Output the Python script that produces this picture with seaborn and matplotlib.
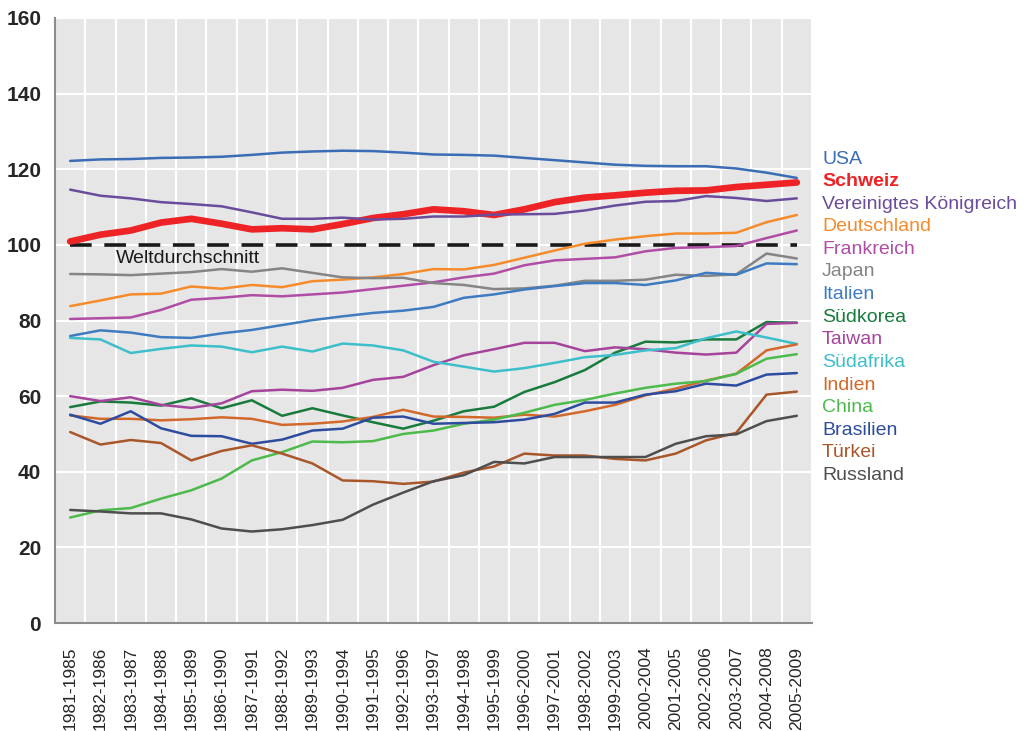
import numpy as np
import pandas as pd
import matplotlib
matplotlib.use("Agg")
import matplotlib.pyplot as plt
import seaborn as sns

perioden = [f"{y}-{y + 4}" for y in range(1981, 2006)]

usa = [122.2, 122.6, 122.7, 123.0, 123.1, 123.3, 123.8, 124.4, 124.7, 124.9, 124.8, 124.4, 123.9,
       123.8, 123.6, 123.0, 122.4, 121.8, 121.2, 120.9, 120.8, 120.8, 120.2, 119.1, 117.7]
schweiz = [100.9, 102.7, 103.8, 105.9, 106.9, 105.6, 104.1, 104.4, 104.1, 105.5, 107.1, 108.1, 109.4,
           108.9, 107.9, 109.4, 111.3, 112.5, 113.1, 113.8, 114.3, 114.4, 115.3, 115.9, 116.5]
vk = [114.6, 113.0, 112.3, 111.3, 110.8, 110.2, 108.6, 106.9, 106.9, 107.2, 106.7, 106.9, 107.5,
      107.5, 108.0, 108.1, 108.2, 109.1, 110.4, 111.4, 111.6, 112.9, 112.4, 111.6, 112.3]
deutschland = [83.8, 85.3, 86.9, 87.1, 89.0, 88.4, 89.4, 88.8, 90.4, 90.8, 91.4, 92.3, 93.6,
               93.5, 94.7, 96.6, 98.5, 100.3, 101.4, 102.3, 103.0, 103.0, 103.2, 106.0, 107.9]
frankreich = [80.4, 80.6, 80.8, 82.8, 85.5, 86.0, 86.7, 86.4, 86.9, 87.4, 88.3, 89.2, 90.1,
              91.4, 92.4, 94.6, 95.9, 96.3, 96.7, 98.3, 99.2, 99.4, 99.7, 101.8, 103.8]
japan = [92.3, 92.2, 92.0, 92.4, 92.8, 93.6, 92.9, 93.8, 92.6, 91.4, 91.2, 91.3, 89.9,
         89.4, 88.3, 88.5, 89.2, 90.5, 90.5, 90.8, 92.1, 91.8, 92.2, 97.7, 96.4]
italien = [75.9, 77.4, 76.8, 75.6, 75.4, 76.6, 77.5, 78.8, 80.1, 81.1, 82.0, 82.6, 83.6,
           86.0, 86.9, 88.2, 89.1, 89.9, 89.9, 89.4, 90.6, 92.6, 92.1, 95.1, 94.9]
suedkorea = [57.1, 58.6, 58.3, 57.5, 59.4, 56.8, 58.9, 54.8, 56.8, 54.9, 53.1, 51.4, 53.5,
             56.0, 57.2, 61.1, 63.7, 66.9, 71.5, 74.4, 74.2, 75.0, 75.0, 79.6, 79.4]
taiwan = [60.0, 58.7, 59.7, 57.7, 56.9, 58.1, 61.3, 61.7, 61.4, 62.2, 64.3, 65.1, 68.2,
          70.8, 72.4, 74.1, 74.1, 71.9, 72.9, 72.4, 71.5, 71.0, 71.5, 79.1, 79.4]
suedafrika = [75.4, 75.0, 71.4, 72.5, 73.4, 73.1, 71.6, 73.1, 71.8, 73.9, 73.4, 72.1, 69.1,
              67.8, 66.5, 67.4, 68.8, 70.3, 70.9, 72.1, 72.7, 75.3, 77.1, 75.5, 73.8]
indien = [54.9, 54.0, 54.0, 53.6, 53.9, 54.4, 54.0, 52.4, 52.7, 53.3, 54.5, 56.4, 54.6,
          54.5, 54.3, 55.1, 54.6, 56.0, 57.7, 60.2, 62.0, 64.1, 65.9, 72.1, 73.7]
china = [27.9, 29.8, 30.4, 32.9, 35.1, 38.2, 43.0, 45.2, 48.0, 47.8, 48.1, 50.0, 50.9,
         52.7, 53.8, 55.6, 57.7, 59.0, 60.7, 62.2, 63.3, 64.0, 65.9, 69.9, 71.1]
brasilien = [55.1, 52.7, 56.0, 51.5, 49.5, 49.4, 47.4, 48.5, 50.9, 51.4, 54.3, 54.6, 52.7,
             52.9, 53.1, 53.8, 55.3, 58.3, 58.3, 60.4, 61.3, 63.3, 62.8, 65.7, 66.1]
tuerkei = [50.5, 47.2, 48.4, 47.6, 43.0, 45.5, 47.0, 44.8, 42.2, 37.7, 37.5, 36.8, 37.4,
           39.8, 41.4, 44.8, 44.3, 44.3, 43.4, 43.0, 44.8, 48.3, 50.3, 60.4, 61.2]
russland = [29.9, 29.5, 29.0, 29.0, 27.4, 25.0, 24.2, 24.8, 25.9, 27.3, 31.3, 34.5, 37.5,
            39.1, 42.6, 42.2, 43.9, 43.9, 43.9, 43.9, 47.4, 49.4, 49.9, 53.4, 54.8]

welt = 100

laender = ["USA", "Schweiz", "Vereinigtes Königreich", "Deutschland", "Frankreich", "Japan",
           "Italien", "Südkorea", "Taiwan", "Südafrika", "Indien", "China", "Brasilien",
           "Türkei", "Russland"]
werte = [usa, schweiz, vk, deutschland, frankreich, japan, italien, suedkorea, taiwan,
         suedafrika, indien, china, brasilien, tuerkei, russland]
farben = ["#3a6db5", "#ee2325", "#6a4c9c", "#f68b2c", "#b04da5", "#858585", "#3f7bc1",
          "#187b3c", "#a6449c", "#3dbfca", "#d2692b", "#4dbb4b", "#2e4c9f", "#a9572a", "#4e4e4e"]

df = pd.DataFrame({
    "land": np.repeat(laender, len(perioden)),
    "x": np.tile(np.arange(len(perioden)), len(laender)),
    "wert": np.concatenate(werte),
})
palette = dict(zip(laender, farben))

sns.set_style("white")
plt.rcParams["font.family"] = ["Liberation Sans", "DejaVu Sans"]

fig = plt.figure(figsize=(10.27, 7.31), dpi=100)
ax = fig.add_axes([0.0536, 0.1477, 0.737, 0.8277])
ax.set_facecolor("#e6e6e6")

ax.hlines(welt, 0, len(perioden) - 1, colors="#1a1a1a", linestyles=(0, (6, 3.5)),
          linewidth=2.6, zorder=2)
ax.text(1.5, welt - 1.4, "Weltdurchschnitt", fontsize=14, va="top", ha="left",
        color="#1a1a1a", zorder=3)

# Schweiz zuerst und dick, dann der Rest darüber
sns.lineplot(data=df[df.land == "Schweiz"], x="x", y="wert", color=palette["Schweiz"],
             linewidth=4.8, ax=ax, legend=False, zorder=3)
for land in laender:
    if land == "Schweiz":
        continue
    sns.lineplot(data=df[df.land == land], x="x", y="wert", color=palette[land],
                 linewidth=1.8, ax=ax, legend=False, zorder=4)

ax.set_xlim(-0.5, len(perioden) - 0.5)
ax.set_ylim(0, 160)
ax.set_yticks(np.arange(0, 161, 20))
ax.set_xticks(np.arange(len(perioden)))
ax.set_xticklabels(perioden, rotation=90, fontsize=12.5)
ax.set_xticks(np.arange(-0.5, len(perioden), 1), minor=True)
ax.tick_params(axis="x", which="major", length=0, pad=17)
ax.tick_params(axis="x", which="minor", length=6, width=1.2, color="black", direction="out")
ax.tick_params(axis="y", length=6, width=1.2, color="black", direction="out", pad=4)
for lbl in ax.get_yticklabels():
    lbl.set_fontsize(15)
    lbl.set_fontweight("bold")

ax.grid(False)
ax.yaxis.grid(True, color="white", linewidth=1.5, zorder=1)
ax.xaxis.grid(True, which="minor", color="white", linewidth=1.5, zorder=1)
ax.set_axisbelow(True)
for s in ["top", "right"]:
    ax.spines[s].set_visible(False)
for s in ["left", "bottom"]:
    ax.spines[s].set_color("#8c8c8c")
    ax.spines[s].set_linewidth(1.5)
ax.set_xlabel("")
ax.set_ylabel("")

y0 = 1 - 159 / 731
dy = 22.6 / 731
for i, land in enumerate(laender):
    fig.text(822 / 1027, y0 - i * dy, land, color=palette[land], fontsize=14,
             fontweight="bold" if land == "Schweiz" else "normal", va="center", ha="left")

fig.savefig("out.png", dpi=100)
